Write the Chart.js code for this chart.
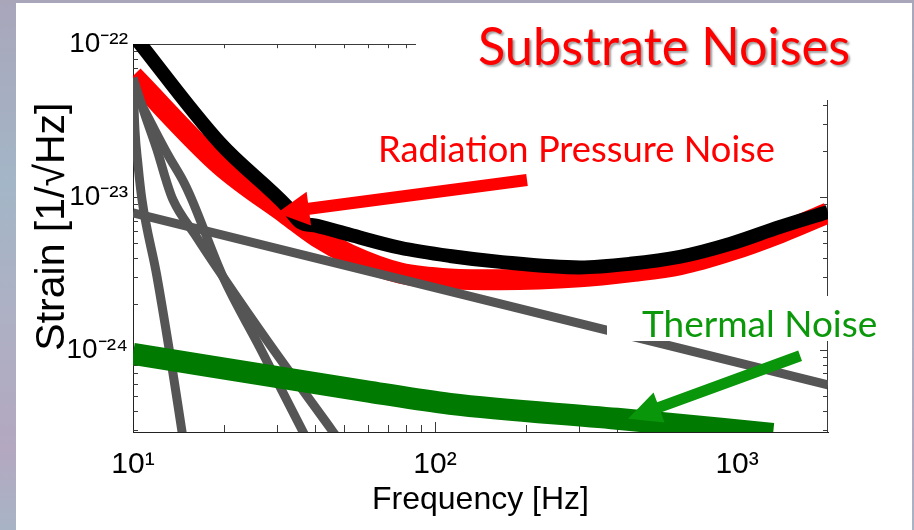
<!DOCTYPE html>
<html><head><meta charset="utf-8">
<script src="https://cdn.jsdelivr.net/npm/chart.js@4.4.0/dist/chart.umd.min.js"></script>
<style>
html,body{margin:0;padding:0;}
body{width:914px;height:530px;overflow:hidden;position:relative;
background:linear-gradient(180deg,#a9a6ba 0%,#a3b6c7 35%,#aeb0c4 60%,#b3a8c0 85%,#a8b4c6 100%);}
#panel{position:absolute;left:16px;top:3px;width:896px;height:527px;background:#fff;}
#wrap{position:absolute;left:0;top:0;width:914px;height:530px;}
</style></head><body>
<div id="panel"></div>
<div id="wrap"><canvas id="c" width="914" height="530"></canvas></div>
<script>
// ---- data (frequency in Hz, strain in 1/sqrt(Hz)) ----
const freqTotal   = [10, 19.4, 32.4, 35.7, 40.7, 52.3, 76.6, 112, 164, 302, 442, 648, 948, 1388, 2000];
const strainTotal = [1.15e-22, 2.25e-23, 8.61e-24, 6.87e-24, 6.46e-24, 5.65e-24, 4.65e-24, 4.11e-24, 3.76e-24, 3.46e-24, 3.65e-24, 4.06e-24, 4.93e-24, 6.37e-24, 7.98e-24];

const freqRadiation   = [10, 19.4, 32.4, 40.7, 52.3, 76.6, 112, 164, 302, 442, 648, 948, 1388, 2000];
const strainRadiation = [6.18e-23, 1.62e-23, 7.62e-24, 5.48e-24, 4.18e-24, 3.18e-24, 2.91e-24, 2.87e-24, 3.00e-24, 3.24e-24, 3.60e-24, 4.44e-24, 5.82e-24, 7.86e-24];

const freqGrayFlat   = [10, 2000];
const strainGrayFlat = [7.86e-24, 5.9e-25];

const freqGraySteep   = [10, 10.15, 10.39, 10.71, 12.01, 14.53, 14.98];
const strainGraySteep = [5.82e-23, 2.74e-23, 1.62e-23, 9.55e-24, 3.0e-24, 2.91e-25, 1.91e-25];

const freqGrayP   = [10, 10.96, 12.01, 12.86, 13.57, 16.05, 19.86, 28.41, 45.95, 50.7];
const strainGrayP = [6.0e-23, 3.43e-23, 2.03e-23, 1.29e-23, 9.55e-24, 5.65e-24, 3.0e-24, 1.08e-24, 2.91e-25, 2.22e-25];

const freqGrayQ   = [10, 11.56, 13.06, 14.75, 15.68, 19.86, 26.34, 36.55, 39.14];
const strainGrayQ = [5.15e-23, 2.96e-23, 1.88e-23, 1.24e-23, 9.55e-24, 3.0e-24, 1.03e-24, 2.91e-25, 2.22e-25];

const freqThermal   = [10, 60.9, 112.1, 400.5, 1316];
const strainThermal = [9.42e-25, 5.31e-25, 4.43e-25, 3.54e-25, 2.82e-25];

const xTickValues = [10, 100, 1000];
const xTickLabels = ['10\u00B9', '10\u00B2', '10\u00B3'];
const yTickValues = [1e-24, 1e-23, 1e-22];
const yTickLabels = ['10\u207B\u00B2\u2074', '10\u207B\u00B2\u00B3', '10\u207B\u00B2\u00B2'];

// arrows: [tail freq, tail strain, tip freq, tip strain]
const arrowRadiation = [201.6, 1.29e-23, 30.0, 7.86e-24];
const arrowThermal   = [1617, 9.14e-25, 435.5, 3.54e-25];

const toXY = (xs, ys) => xs.map((x, i) => ({x: x, y: ys[i]}));
const lineBase = {pointRadius: 0, fill: false, borderJoinStyle: 'round', borderCapStyle: 'butt', clip: 0,
                  cubicInterpolationMode: 'monotone'};

const SANS = "'Liberation Sans', Arial, sans-serif";

function drawArrow(ctx, x0, y0, x1, y1, shaftW, headL, headW, color) {
  const dx = x1 - x0, dy = y1 - y0, L = Math.hypot(dx, dy);
  const ux = dx / L, uy = dy / L, nx = -uy, ny = ux;
  const bx = x1 - ux * headL, by = y1 - uy * headL;
  ctx.fillStyle = color;
  ctx.beginPath();
  ctx.moveTo(x0 + nx * shaftW / 2, y0 + ny * shaftW / 2);
  ctx.lineTo(bx + nx * shaftW / 2, by + ny * shaftW / 2);
  ctx.lineTo(bx + nx * headW, by + ny * headW);
  ctx.lineTo(x1, y1);
  ctx.lineTo(bx - nx * headW, by - ny * headW);
  ctx.lineTo(bx - nx * shaftW / 2, by - ny * shaftW / 2);
  ctx.lineTo(x0 - nx * shaftW / 2, y0 - ny * shaftW / 2);
  ctx.closePath();
  ctx.fill();
}

const frameTicks = {
  id: 'frameTicks',
  beforeDatasetsDraw(chart) {
    const {ctx, chartArea: a, scales: {x, y}} = chart;
    ctx.save();
    ctx.strokeStyle = '#3a3a3a';
    ctx.lineWidth = 1;
    ctx.beginPath();
    ctx.moveTo(a.left, a.top + 0.5); ctx.lineTo(a.right, a.top + 0.5);
    ctx.moveTo(a.right - 0.5, a.top); ctx.lineTo(a.right - 0.5, a.bottom);
    for (let d = 1; d <= 3; d++) {
      for (let k = 1; k <= 9; k++) {
        const v = k * Math.pow(10, d);
        if (v <= x.min || v >= x.max) continue;
        const px = Math.round(x.getPixelForValue(v)) + 0.5;
        const len = k === 1 ? 10 : 7;
        ctx.moveTo(px, a.bottom); ctx.lineTo(px, a.bottom - len);
        ctx.moveTo(px, a.top); ctx.lineTo(px, a.top + len * 0.6);
      }
    }
    for (let d = -25; d <= -23; d++) {
      for (let k = 1; k <= 9; k++) {
        const v = k * Math.pow(10, d);
        if (v <= y.min || v >= y.max) continue;
        const py = Math.round(y.getPixelForValue(v)) + 0.5;
        const len = k === 1 ? 8 : 5;
        ctx.moveTo(a.left, py); ctx.lineTo(a.left + len, py);
        ctx.moveTo(a.right, py); ctx.lineTo(a.right - len, py);
      }
    }
    ctx.stroke();
    ctx.restore();
  },
  afterDraw(chart) {
    const {ctx, scales: {x, y}} = chart;
    ctx.save();
    // white text backgrounds (as on the slide)
    ctx.fillStyle = '#ffffff';
    ctx.fillRect(416, 3, 495, 97);
    ctx.fillRect(607, 296, 290, 45);

    // arrows, anchored at data coordinates
    const r = arrowRadiation, t = arrowThermal;
    drawArrow(ctx, x.getPixelForValue(r[0]), y.getPixelForValue(r[1]), x.getPixelForValue(r[2]), y.getPixelForValue(r[3]), 12, 32, 17, '#ff0000');
    drawArrow(ctx, x.getPixelForValue(t[0]), y.getPixelForValue(t[1]), x.getPixelForValue(t[2]), y.getPixelForValue(t[3]), 11, 33, 16, '#0a960a');

    // annotations
    ctx.textAlign = 'left';
    ctx.textBaseline = 'alphabetic';
    ctx.save();
    ctx.shadowColor = 'rgba(120,120,120,0.7)';
    ctx.shadowOffsetX = 2; ctx.shadowOffsetY = 2; ctx.shadowBlur = 2;
    ctx.fillStyle = '#ff0000';
    ctx.font = "52px Lato, 'Open Sans', sans-serif";
    ctx.fillText('Substrate Noises', 478, 65, 372);
    ctx.restore();
    ctx.fillStyle = '#ff0000';
    ctx.font = "37px Lato, 'Open Sans', sans-serif";
    ctx.fillText('Radiation Pressure Noise', 378, 162, 397);
    ctx.fillStyle = '#0b990b';
    ctx.fillText('Thermal Noise', 642, 337, 237);
    ctx.restore();
  }
};

const chart = new Chart(document.getElementById('c'), {
  type: 'line',
  data: {
    datasets: [
      Object.assign({label: 'Radiation pressure', data: toXY(freqRadiation, strainRadiation), borderColor: '#ff0000', borderWidth: 21, order: 4}, lineBase),
      Object.assign({label: 'Gray flat', data: toXY(freqGrayFlat, strainGrayFlat), borderColor: '#555555', borderWidth: 9, order: 3}, lineBase),
      Object.assign({label: 'Gray steep', data: toXY(freqGraySteep, strainGraySteep), borderColor: '#555555', borderWidth: 9, order: 3}, lineBase),
      Object.assign({label: 'Gray P', data: toXY(freqGrayP, strainGrayP), borderColor: '#555555', borderWidth: 9, order: 3}, lineBase),
      Object.assign({label: 'Gray Q', data: toXY(freqGrayQ, strainGrayQ), borderColor: '#555555', borderWidth: 9, order: 3}, lineBase),
      Object.assign({label: 'Total', data: toXY(freqTotal, strainTotal), borderColor: '#000000', borderWidth: 14, order: 2}, lineBase),
      Object.assign({label: 'Thermal', data: toXY(freqThermal, strainThermal), borderColor: '#007a00', borderWidth: 22, order: 1}, lineBase)
    ]
  },
  options: {
    responsive: false,
    animation: false,
    devicePixelRatio: 1,
    events: [],
    layout: {padding: {left: 0, top: 44, right: 86, bottom: 0}},
    plugins: {legend: {display: false}, tooltip: {enabled: false}, title: {display: false}},
    scales: {
      x: {
        type: 'logarithmic', position: 'bottom', min: 10, max: 2000,
        afterBuildTicks: s => { s.ticks = xTickValues.map(v => ({value: v, major: true})); },
        afterFit: s => { s.height = 98; s.paddingLeft = 0; s.paddingRight = 0; },
        ticks: {callback: (v, i) => xTickLabels[i], autoSkip: false, maxRotation: 0, minRotation: 0,
                font: {family: SANS, size: 30}, color: '#000', padding: 15},
        grid: {display: false, drawTicks: false},
        border: {display: true, color: '#222', width: 1},
        title: {display: true, text: 'Frequency [Hz]', color: '#000',
                font: {family: SANS, size: 32}, padding: {top: 0, bottom: 11}}
      },
      y: {
        type: 'logarithmic', position: 'left', min: 2.9e-25, max: 1e-22,
        afterBuildTicks: s => { s.ticks = yTickValues.map(v => ({value: v, major: true})); },
        afterFit: s => { s.width = 133; s.paddingTop = 0; s.paddingBottom = 0; },
        ticks: {callback: (v, i) => yTickLabels[i], autoSkip: false,
                font: {family: SANS, size: 28}, color: '#000', padding: 5},
        grid: {display: false, drawTicks: false},
        border: {display: true, color: '#222', width: 1},
        title: {display: true, text: '  Strain [1/\u221AHz]', color: '#000',
                font: {family: SANS, size: 41}, padding: {top: 28, bottom: 0}}
      }
    }
  },
  plugins: [frameTicks]
});
</script>
</body></html>
